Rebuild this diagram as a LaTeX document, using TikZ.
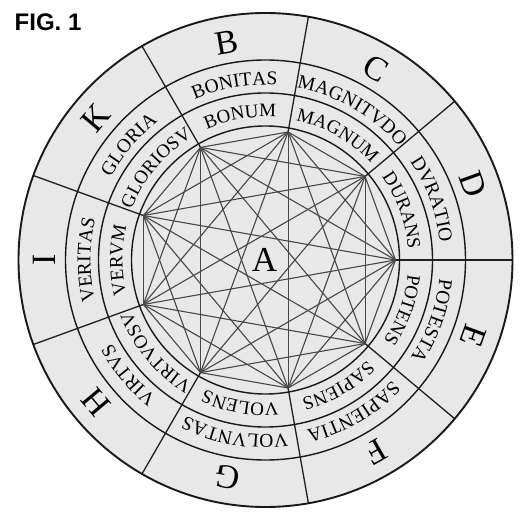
\documentclass[tikz,border=0pt]{standalone}
\usepackage{fontspec}
\setmainfont{Liberation Serif}
\newfontfamily\labelsans{Liberation Sans}
\usetikzlibrary{decorations.text}
\newcommand\llullword[4]{%
  \path[decorate, decoration={text along path, text align=center,
    text={|\fontsize{#3}{#3}\selectfont|#4}}]
    ({#1+22}:#2) arc[start angle={#1+22}, end angle={#1-22}, radius=#2];}
\begin{document}
\begin{tikzpicture}[x=1pt,y=1pt,
  chord/.style={line width=1.1pt, draw=black!72},
  ring/.style={line width=1.4pt, draw=black!90},
  divider/.style={line width=1.3pt, draw=black!88},
  bigletter/.style={font=\fontsize{34}{34}\selectfont, inner sep=0pt},
]
\useasboundingbox (-265.5,-253) rectangle (260.5,260);
\fill[white] (-265.5,-253) rectangle (260.5,260);
% disc and rings
\path[fill=black!9, draw=black!90, line width=1.9pt] (0,0) circle[radius=247];
\draw[ring] (0,0) circle[radius=200];
\draw[ring] (0,0) circle[radius=167];
\draw[ring] (0,0) circle[radius=134];
% vertices and outer ends of dividers
\foreach \k in {0,...,8}{
  \coordinate (v\k) at ({\k*40}:130);
  \coordinate (o\k) at ({\k*40}:247);
}
% dividers
\foreach \k in {0,...,8}{
  \draw[divider] (v\k) -- (o\k);
}
% all chords
\foreach \i in {0,...,7}{
  \pgfmathtruncatemacro\jstart{\i+1}
  \foreach \j in {\jstart,...,8}{
    \draw[chord] (v\i) -- (v\j);
  }
}
% centre
\node[font=\fontsize{35}{35}\selectfont, inner sep=0pt] (A) at (-1,0) {A};
% letters
\foreach \a/\t in {100/B,60/C,20/D,340/E,300/F,260/G,220/H,180/I,140/K}{
  \node[bigletter, rotate=\a-90] (l\t) at (\a:221) {\t};
}
% outer names
\llullword{100}{175}{19.5}{BONITAS}
\llullword{60}{175}{19.5}{MAGNITVDO}
\llullword{20}{175}{19.5}{DVRATIO}
\llullword{340}{175}{19.5}{POTESTA}
\llullword{300}{175}{19.5}{SAPIENTIA}
\llullword{260}{175}{19.5}{VOLVNTAS}
\llullword{220}{175}{19.5}{VIRTVS}
\llullword{180}{175}{19.5}{VERITAS}
\llullword{140}{175}{19.5}{GLORIA}
% inner names
\llullword{100}{143}{19}{BONUM}
\llullword{60}{143}{19}{MAGNUM}
\llullword{20}{143}{19}{DURANS}
\llullword{340}{143}{19}{POTENS}
\llullword{300}{143}{19}{SAPIENS}
\llullword{260}{143}{19}{VOLENS}
\llullword{220}{143}{19}{VIRTVOSV}
\llullword{180}{143}{19}{VERVM}
\llullword{140}{143}{19}{GLORIOSV}
% figure label
\node[font=\labelsans\bfseries\fontsize{24}{24}\selectfont, anchor=base west, inner sep=0pt] (fig) at (-251,229.5) {FIG. 1};
\end{tikzpicture}
\end{document}
